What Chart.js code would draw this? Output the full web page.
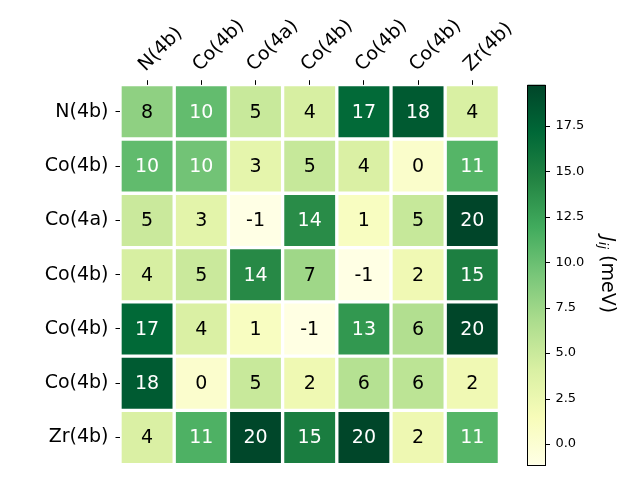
<!DOCTYPE html>
<html><head><meta charset="utf-8">
<script src="https://cdn.jsdelivr.net/npm/chart.js@4/dist/chart.umd.min.js"></script>
<style>html,body{margin:0;padding:0;background:#fff}</style>
</head><body>
<div style="width:640px;height:480px"><canvas id="c" width="640" height="480"></canvas></div>
<script>
const rowLabels = ['N(4b)', 'Co(4b)', 'Co(4a)', 'Co(4b)', 'Co(4b)', 'Co(4b)', 'Zr(4b)'];
const colLabels = ['N(4b)', 'Co(4b)', 'Co(4a)', 'Co(4b)', 'Co(4b)', 'Co(4b)', 'Zr(4b)'];
const row0 = [8.2, 10.3, 5.1, 4.2, 17.0, 18.2, 4.1];
const row1 = [10.4, 9.6, 3.0, 5.2, 4.0, 0.4, 11.0];
const row2 = [5.0, 3.2, -1.14, 14.0, 1.0, 5.2, 19.77];
const row3 = [4.2, 5.0, 14.2, 7.4, -1.1, 2.1, 15.0];
const row4 = [17.1, 4.0, 1.0, -1.0, 13.2, 6.4, 19.7];
const row5 = [18.1, 0.3, 5.1, 2.2, 6.2, 5.8, 2.1];
const row6 = [4.0, 11.3, 19.6, 15.2, 19.7, 2.3, 11.0];
const values = [row0, row1, row2, row3, row4, row5, row6];
const cbTicks = [0, 2.5, 5, 7.5, 10, 12.5, 15, 17.5];
const vmin = Math.min(...values.flat());
const vmax = Math.max(...values.flat());

const stops = ['#ffffe5','#f7fcb9','#d9f0a3','#addd8e','#78c679','#41ab5d','#238443','#006837','#004529'];
function hex(h){return [parseInt(h.slice(1,3),16),parseInt(h.slice(3,5),16),parseInt(h.slice(5,7),16)];}
function cmap(v){
  let t = (v - vmin) / (vmax - vmin); t = Math.max(0, Math.min(1, t));
  const p = t * (stops.length - 1); const i = Math.min(stops.length - 2, Math.floor(p)); const f = p - i;
  const a = hex(stops[i]), b = hex(stops[i+1]);
  return 'rgb(' + a.map((c,k)=>Math.round(c + (b[k]-c)*f)).join(',') + ')';
}
const FONT = "'DejaVu Sans', sans-serif";

const datasets = colLabels.map((c, j) => ({
  label: c,
  data: rowLabels.map(() => 1),
  backgroundColor: values.map(r => cmap(r[j])),
  borderColor: '#ffffff',
  borderWidth: 2,
  borderSkipped: false,
  barPercentage: 1,
  categoryPercentage: 1
}));

const annot = {
  id: 'annot',
  afterDatasetsDraw(chart) {
    const ctx = chart.ctx;
    ctx.save();
    ctx.font = '19px ' + FONT;
    ctx.textAlign = 'center'; ctx.textBaseline = 'middle';
    chart.data.datasets.forEach((ds, j) => {
      chart.getDatasetMeta(j).data.forEach((el, i) => {
        const v = values[i][j];
        const t = (v - vmin) / (vmax - vmin);
        ctx.fillStyle = t > 0.5 ? '#ffffff' : '#000000';
        ctx.fillText(String(Math.round(v)), (el.x + el.base) / 2, el.y + 1);
      });
    });
    ctx.restore();
  }
};

const colorbar = {
  id: 'colorbar',
  afterDraw(chart) {
    const ctx = chart.ctx, s = chart.scales.y2;
    const top = s.getPixelForValue(vmax), bot = s.getPixelForValue(vmin);
    const x0 = 527.5, w = 18;
    const g = ctx.createLinearGradient(0, bot, 0, top);
    stops.forEach((c, k) => g.addColorStop(k / (stops.length - 1), c));
    ctx.save();
    ctx.fillStyle = g; ctx.fillRect(x0, top, w, bot - top);
    ctx.strokeStyle = '#000'; ctx.lineWidth = 1;
    ctx.strokeRect(x0, Math.round(top) + 0.5, w, Math.round(bot - top));
    cbTicks.forEach(v => {
      const y = Math.round(s.getPixelForValue(v)) + 0.5;
      ctx.beginPath(); ctx.moveTo(x0 + w, y); ctx.lineTo(x0 + w + 4.5, y); ctx.stroke();
    });
    // title J_ij (meV)
    ctx.translate(607, (chart.chartArea.top + chart.chartArea.bottom) / 2);
    ctx.rotate(Math.PI / 2);
    ctx.fillStyle = '#000'; ctx.textBaseline = 'middle'; ctx.textAlign = 'left';
    const fJ = 'italic 19px ' + FONT, fS = 'italic 13px ' + FONT, fN = '19px ' + FONT;
    const p1 = 'J', p2 = 'ij', p3 = ' (meV)';
    ctx.font = fJ; const w1 = ctx.measureText(p1).width;
    ctx.font = fS; const w2 = ctx.measureText(p2).width;
    ctx.font = fN; const w3 = ctx.measureText(p3).width;
    let x = -(w1 + w2 + w3) / 2;
    ctx.font = fJ; ctx.fillText(p1, x, 0); x += w1;
    ctx.font = fS; ctx.fillText(p2, x, 5); x += w2;
    ctx.font = fN; ctx.fillText(p3, x, 0);
    ctx.restore();
  }
};

new Chart(document.getElementById('c'), {
  type: 'bar',
  data: { labels: rowLabels, datasets },
  options: {
    indexAxis: 'y',
    responsive: false,
    animation: false,
    devicePixelRatio: 1,
    layout: { padding: { top: 0, bottom: 15.3, left: 0, right: 0 } },
    plugins: { legend: { display: false }, tooltip: { enabled: false } },
    scales: {
      x: {
        type: 'linear', stacked: true, min: 0, max: colLabels.length, position: 'top',
        afterBuildTicks(s) { s.ticks = colLabels.map((l, i) => ({ value: i + 0.5 })); },
        afterFit(s) { s.height = 84.7; },
        border: { display: false },
        grid: { drawOnChartArea: false, tickLength: 4.5, color: '#000', tickColor: '#000' },
        ticks: {
          autoSkip: false, minRotation: 45, maxRotation: 45, padding: 4, labelOffset: 11,
          color: '#000', font: { family: FONT, size: 19 },
          callback: (v, i) => colLabels[i]
        }
      },
      y: {
        type: 'category', stacked: true, position: 'left',
        afterFit(s) { s.width = 120; s.paddingTop = 0; s.paddingBottom = 0; },
        border: { display: false },
        grid: { offset: false, drawOnChartArea: false, tickLength: 4.5, color: '#000', tickColor: '#000' },
        ticks: { padding: 7, color: '#000', font: { family: FONT, size: 19 } }
      },
      y2: {
        type: 'linear', position: 'right', min: vmin, max: vmax, offset: false,
        afterBuildTicks(s) { s.ticks = cbTicks.map(v => ({ value: v })); },
        afterFit(s) { s.width = 140.6; s.paddingTop = 0; s.paddingBottom = 0; },
        border: { display: false },
        grid: { display: false, drawTicks: false, offset: false },
        ticks: { padding: 56, color: '#000', font: { family: FONT, size: 13 }, callback: v => v.toFixed(1) }
      }
    }
  },
  plugins: [annot, colorbar]
});
</script>
</body></html>
